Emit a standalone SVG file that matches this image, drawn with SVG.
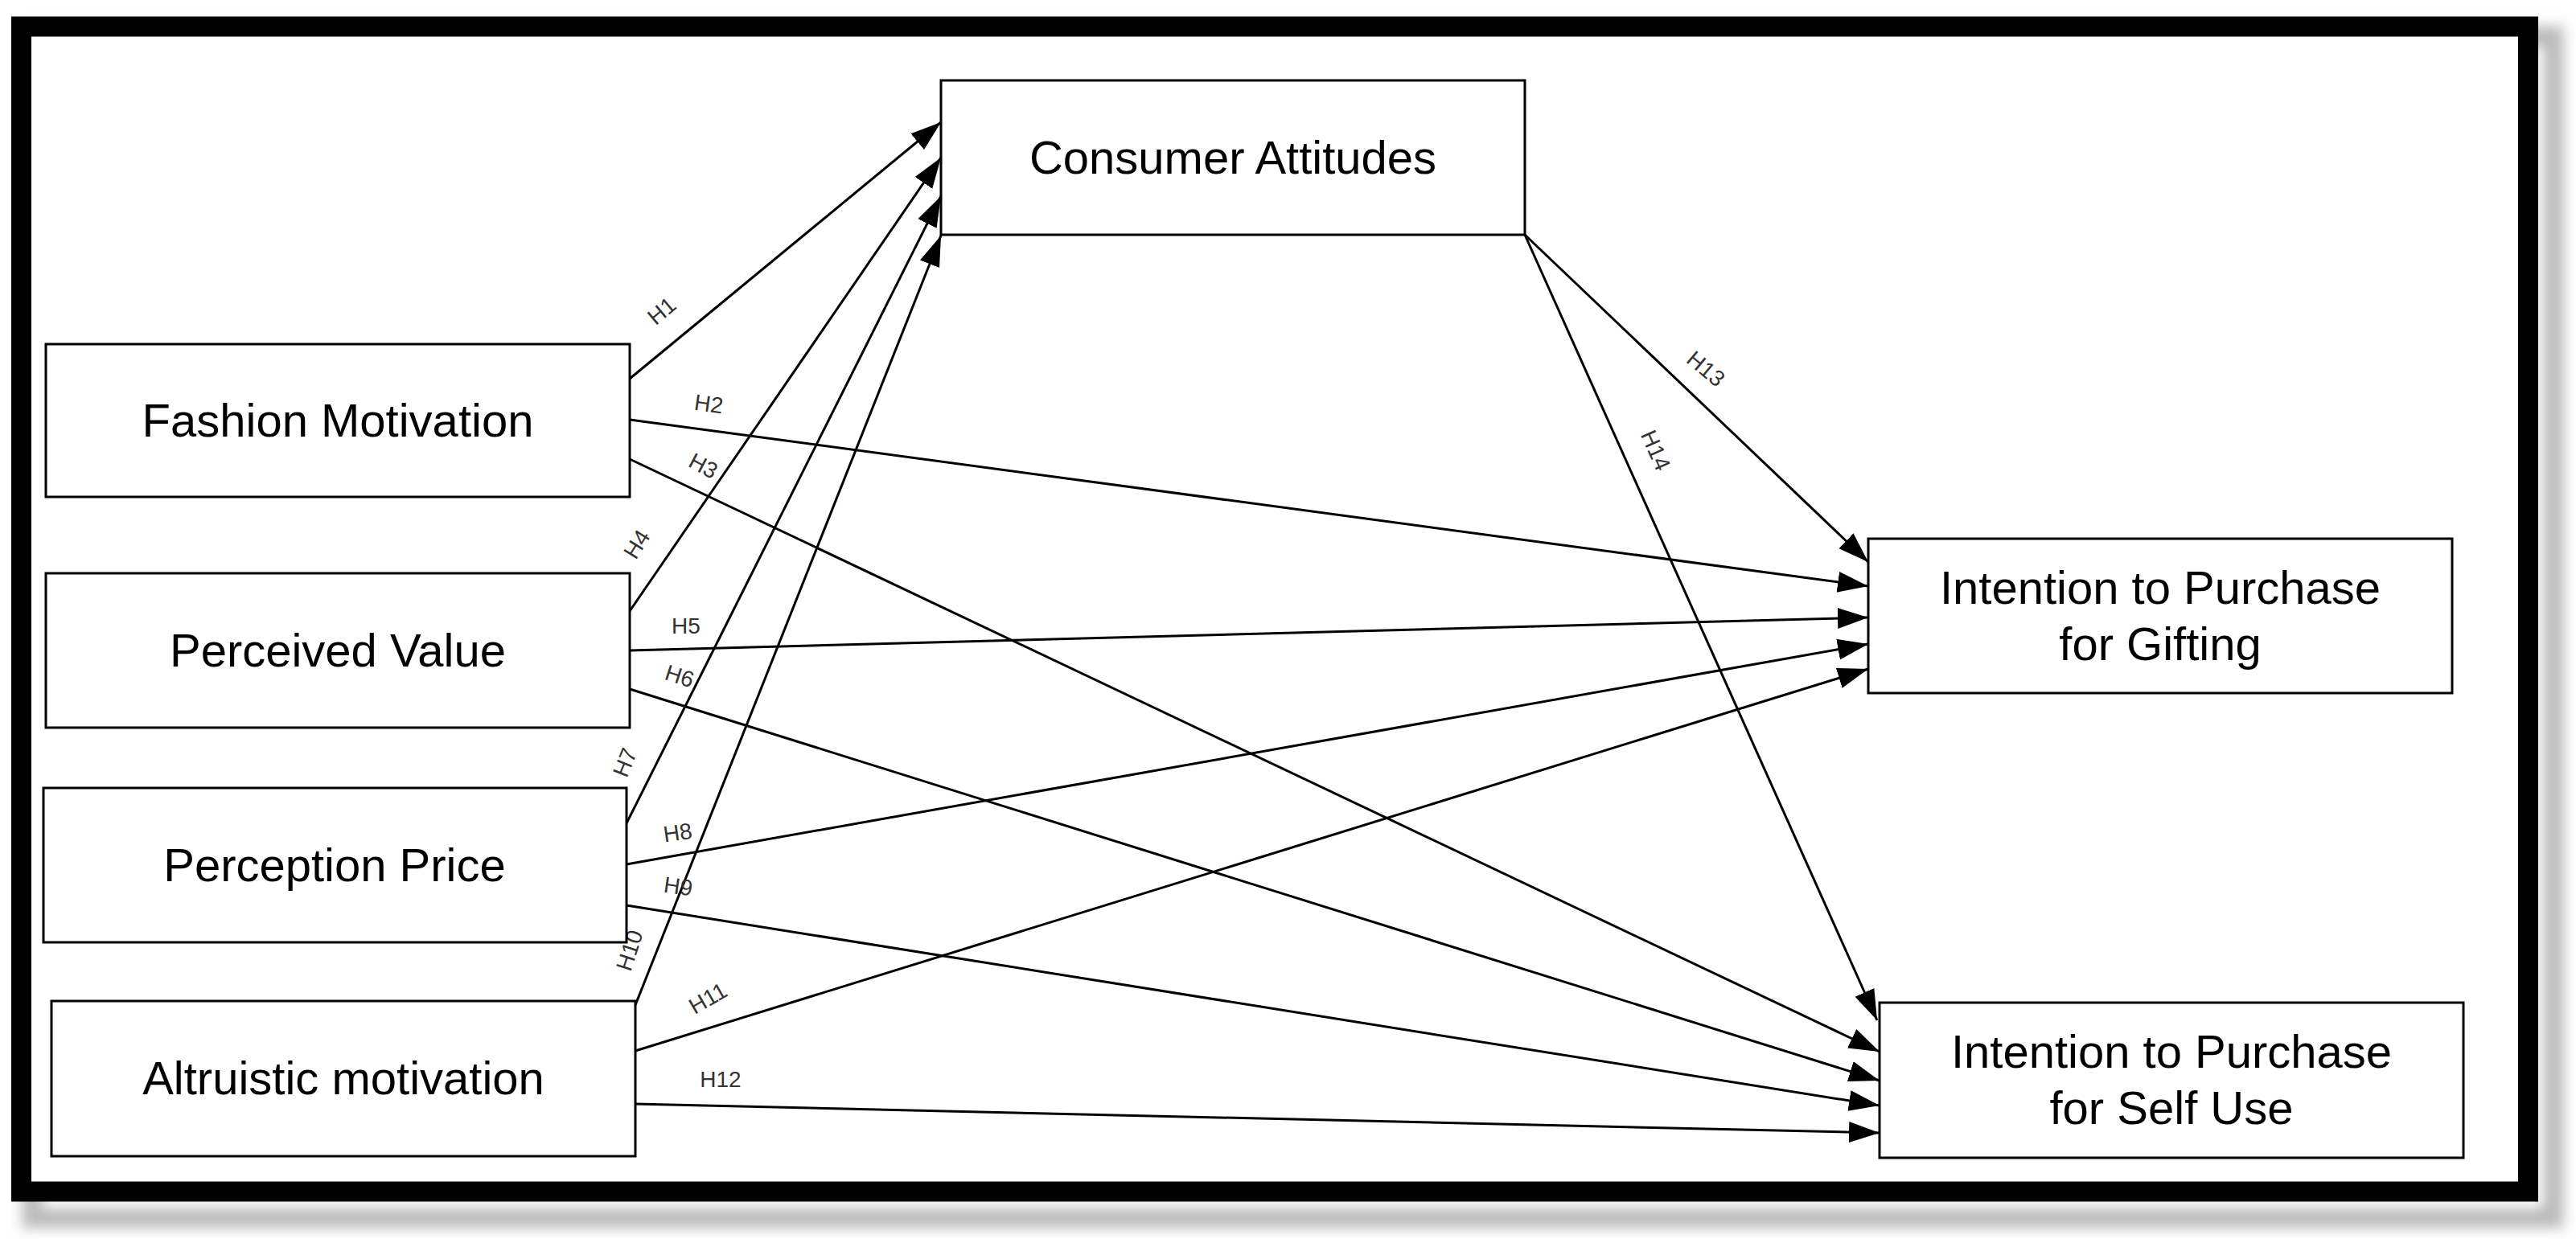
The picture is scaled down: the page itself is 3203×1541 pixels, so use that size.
<svg xmlns="http://www.w3.org/2000/svg" width="3203" height="1541" viewBox="0 0 3203 1541">
<defs>
<marker id="ar" markerUnits="userSpaceOnUse" markerWidth="40" markerHeight="30" refX="38" refY="13" orient="auto"><path d="M0,0 L38,13 L0,26 Z" fill="#000"/></marker>
<filter id="sh" x="-5%" y="-5%" width="110%" height="110%"><feGaussianBlur stdDeviation="8"/></filter>
</defs>
<style>
.n{fill:#fff;stroke:#000;stroke-width:3}
.t{font-family:"Liberation Sans",Arial,sans-serif;font-size:58px;fill:#000;text-anchor:middle}
.e{stroke:#000;stroke-width:3;fill:none;marker-end:url(#ar)}
.l{font-family:"Liberation Sans",Arial,sans-serif;font-size:28px;fill:#333;text-anchor:middle}
</style>
<rect width="3203" height="1541" fill="#fff"/>
<rect x="40" y="45" width="3135" height="1470" fill="none" stroke="#bbb" stroke-width="25" filter="url(#sh)"/>
<rect x="26.5" y="33" width="3117" height="1449" fill="#fff" stroke="#000" stroke-width="25"/>
<g id="connectors">
<line class="e" x1="783" y1="471" x2="1170" y2="152"/>
<line class="e" x1="783" y1="522" x2="2323" y2="729"/>
<line class="e" x1="783" y1="571" x2="2337" y2="1308"/>
<line class="e" x1="783" y1="760" x2="1170" y2="196"/>
<line class="e" x1="783" y1="809" x2="2323" y2="768"/>
<line class="e" x1="783" y1="857" x2="2337" y2="1344"/>
<line class="e" x1="779" y1="1024" x2="1170" y2="244"/>
<line class="e" x1="779" y1="1075" x2="2323" y2="801"/>
<line class="e" x1="779" y1="1126" x2="2337" y2="1375"/>
<line class="e" x1="790" y1="1250" x2="1170" y2="293"/>
<line class="e" x1="790" y1="1307" x2="2323" y2="832"/>
<line class="e" x1="790" y1="1373" x2="2337" y2="1409"/>
<line class="e" x1="1896" y1="292" x2="2323" y2="699"/>
<line class="e" x1="1896" y1="292" x2="2334" y2="1269"/>
<text class="l" transform="translate(829,394) rotate(-40)">H1</text>
<text class="l" transform="translate(880,512) rotate(8)">H2</text>
<text class="l" transform="translate(870,588) rotate(28)">H3</text>
<text class="l" transform="translate(800,682) rotate(-58)">H4</text>
<text class="l" transform="translate(853,788)">H5</text>
<text class="l" transform="translate(842,850) rotate(18)">H6</text>
<text class="l" transform="translate(786,952) rotate(-68)">H7</text>
<text class="l" transform="translate(844,1045) rotate(-8)">H8</text>
<text class="l" transform="translate(842,1112) rotate(8)">H9</text>
<text class="l" transform="translate(792,1185) rotate(-72)">H10</text>
<text class="l" transform="translate(885,1250) rotate(-30)">H11</text>
<text class="l" transform="translate(896,1352)">H12</text>
<text class="l" transform="translate(2115,466) rotate(40)">H13</text>
<text class="l" transform="translate(2050,564) rotate(66)">H14</text>
</g>
<g id="consumer-attitudes"><rect class="n" x="1170" y="100" width="726" height="192"/><text class="t" x="1533" y="216">Consumer Attitudes</text></g>
<g id="fashion-motivation"><rect class="n" x="57" y="428" width="726" height="190"/><text class="t" x="420" y="543">Fashion Motivation</text></g>
<g id="perceived-value"><rect class="n" x="57" y="713" width="726" height="192"/><text class="t" x="420" y="829">Perceived Value</text></g>
<g id="perception-price"><rect class="n" x="54" y="980" width="725" height="192"/><text class="t" x="416" y="1096">Perception Price</text></g>
<g id="altruistic-motivation"><rect class="n" x="64" y="1245" width="726" height="193"/><text class="t" x="427" y="1361">Altruistic motivation</text></g>
<g id="gifting"><rect class="n" x="2323" y="670" width="726" height="192"/><text class="t" x="2686" y="751">Intention to Purchase</text><text class="t" x="2686" y="821">for Gifting</text></g>
<g id="self-use"><rect class="n" x="2337" y="1247" width="726" height="193"/><text class="t" x="2700" y="1328">Intention to Purchase</text><text class="t" x="2700" y="1398">for Self Use</text></g>
</svg>
